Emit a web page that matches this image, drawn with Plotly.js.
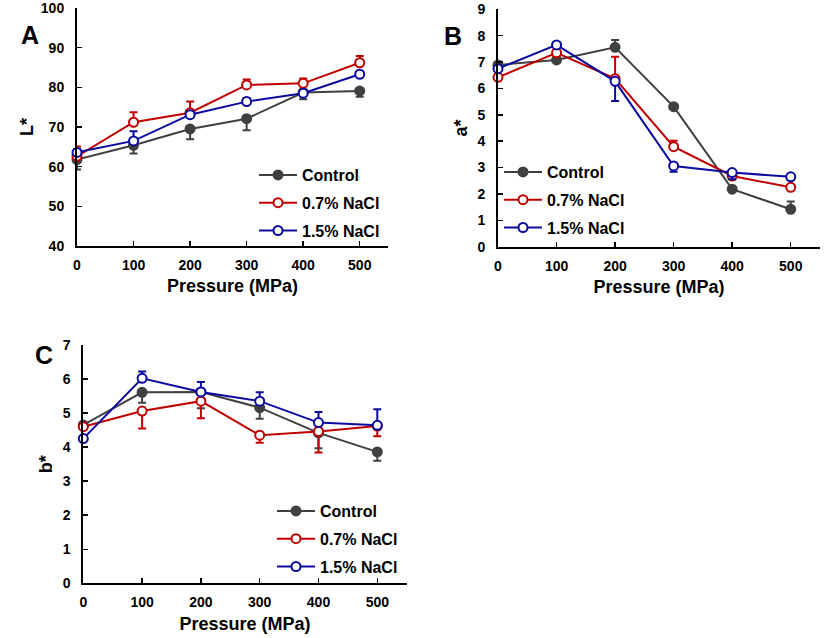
<!DOCTYPE html>
<html>
<head>
<meta charset="utf-8">
<script src="https://cdn.plot.ly/plotly-3.0.1.min.js"></script>
<style>html,body{margin:0;padding:0;background:#fff;}#chart{width:827px;height:638px;}</style>
</head>
<body>
<div id="chart"></div>
<script>
// ---- data ----
const pressure = [0, 100, 200, 300, 400, 500];
const seriesNames = ["Control", "0.7% NaCl", "1.5% NaCl"];

// Panel A: L*
const L_control = [61.8, 65.4, 69.5, 72.1, 78.7, 79.1];
const L_control_errPlus = [0, 0, 0, 0, 0, 0];
const L_control_errMinus = [2.5, 2.1, 2.6, 2.9, 1.7, 1.5];
const L_nacl07 = [62.6, 71.2, 73.6, 80.6, 81.0, 86.2];
const L_nacl07_errPlus = [2.5, 2.5, 2.8, 1.4, 1.2, 1.7];
const L_nacl07_errMinus = [0, 0, 0, 0, 0, 0];
const L_nacl15 = [63.6, 66.5, 73.1, 76.4, 78.5, 83.3];
const L_nacl15_errPlus = [0.8, 2.4, 0.5, 0.9, 0.8, 0.4];
const L_nacl15_errMinus = [0, 0, 0, 0, 0, 0];

// Panel B: a*
const a_control = [6.89, 7.08, 7.56, 5.31, 2.18, 1.42];
const a_control_errPlus = [0.08, 0.08, 0.28, 0.06, 0.06, 0.29];
const a_control_errMinus = [0, 0, 0, 0, 0, 0];
const a_nacl07 = [6.42, 7.35, 6.37, 3.79, 2.68, 2.25];
const a_nacl07_errPlus = [0.06, 0.08, 0.83, 0.23, 0.06, 0.08];
const a_nacl07_errMinus = [0, 0, 0, 0, 0, 0];
const a_nacl15 = [6.75, 7.65, 6.27, 3.06, 2.81, 2.65];
const a_nacl15_errPlus = [0, 0, 0, 0, 0, 0];
const a_nacl15_errMinus = [0.06, 0.06, 0.75, 0.22, 0.25, 0.12];

// Panel C: b*
const b_control = [4.65, 5.61, 5.62, 5.16, 4.42, 3.86];
const b_control_errPlus = [0, 0, 0, 0, 0, 0];
const b_control_errMinus = [0.08, 0.31, 0.48, 0.33, 0.45, 0.26];
const b_nacl07 = [4.60, 5.06, 5.35, 4.35, 4.46, 4.62];
const b_nacl07_errPlus = [0, 0, 0, 0, 0, 0];
const b_nacl07_errMinus = [0.08, 0.51, 0.50, 0.22, 0.62, 0.30];
const b_nacl15 = [4.25, 6.02, 5.62, 5.35, 4.72, 4.64];
const b_nacl15_errPlus = [0.08, 0.20, 0.29, 0.26, 0.31, 0.47];
const b_nacl15_errMinus = [0, 0, 0, 0, 0, 0];

const xTicks = [0, 100, 200, 300, 400, 500];
const yTicksA = [40, 50, 60, 70, 80, 90, 100];
const yTicksB = [0, 1, 2, 3, 4, 5, 6, 7, 8, 9];
const yTicksC = [0, 1, 2, 3, 4, 5, 6, 7];

// ---- styling ----
const FONT = "Liberation Sans, Arial, Helvetica, sans-serif";
const colors = ["#404040", "#C00000", "#0A0AA0"];
const fills = ["#404040", "#ffffff", "#ffffff"];

function mk(y, plus, minus, idx, xa, ya, legendId) {
  return {
    x: pressure, y: y, xaxis: xa, yaxis: ya,
    type: "scatter", mode: "lines+markers",
    name: seriesNames[idx],
    legend: legendId, legendgroup: legendId + "_" + idx,
    line: {color: colors[idx], width: 2},
    marker: {symbol: "circle", size: 9, color: fills[idx], line: {color: colors[idx], width: 2}},
    error_y: {type: "data", symmetric: false, array: plus, arrayminus: minus,
              color: colors[idx], thickness: 2, width: 4},
    cliponaxis: false
  };
}

const traces = [
  mk(L_control, L_control_errPlus, L_control_errMinus, 0, "x", "y", "legend"),
  mk(L_nacl07, L_nacl07_errPlus, L_nacl07_errMinus, 1, "x", "y", "legend"),
  mk(L_nacl15, L_nacl15_errPlus, L_nacl15_errMinus, 2, "x", "y", "legend"),
  mk(a_control, a_control_errPlus, a_control_errMinus, 0, "x2", "y2", "legend2"),
  mk(a_nacl07, a_nacl07_errPlus, a_nacl07_errMinus, 1, "x2", "y2", "legend2"),
  mk(a_nacl15, a_nacl15_errPlus, a_nacl15_errMinus, 2, "x2", "y2", "legend2"),
  mk(b_control, b_control_errPlus, b_control_errMinus, 0, "x3", "y3", "legend3"),
  mk(b_nacl07, b_nacl07_errPlus, b_nacl07_errMinus, 1, "x3", "y3", "legend3"),
  mk(b_nacl15, b_nacl15_errPlus, b_nacl15_errMinus, 2, "x3", "y3", "legend3")
];

const W = 827, H = 638;
function px(x) { return x / W; }
function py(y) { return 1 - y / H; }

function xAxis(x0, x1, anchor) {
  return {
    domain: [px(x0), px(x1)], anchor: anchor, range: [0, 550],
    tickvals: xTicks, ticktext: xTicks.map(String),
    showline: true, linecolor: "#000", linewidth: 2,
    ticks: "inside", ticklen: 5, tickwidth: 1.5, tickcolor: "#000",
    showgrid: false, zeroline: false, ticklabelstandoff: 5,
    ticklabeloverflow: "allow",
    tickfont: {family: FONT, size: 14, color: "#000", weight: "bold"},
    title: {text: "Pressure (MPa)", standoff: 8,
            font: {family: FONT, size: 18, color: "#000", weight: "bold"}}
  };
}
function yAxis(y0, y1, anchor, rng, ticks, title, standoff) {
  return {
    domain: [py(y1), py(y0)], anchor: anchor, range: rng,
    tickvals: ticks, ticktext: ticks.map(String),
    showline: true, linecolor: "#000", linewidth: 2,
    ticks: "inside", ticklen: 5, tickwidth: 1.5, tickcolor: "#000",
    showgrid: false, zeroline: false, ticklabelstandoff: 8,
    ticklabeloverflow: "allow",
    tickfont: {family: FONT, size: 14, color: "#000", weight: "bold"},
    title: {text: title, standoff: standoff,
            font: {family: FONT, size: 18, color: "#000", weight: "bold"}}
  };
}

function legendAt(x, y) {
  return {
    x: px(x), y: py(y), xanchor: "left", yanchor: "top",
    bgcolor: "rgba(0,0,0,0)", borderwidth: 0,
    font: {family: FONT, size: 16, color: "#000", weight: "bold"},
    itemwidth: 38, tracegroupgap: 4, itemclick: false
  };
}

const layout = {
  width: W, height: H,
  margin: {l: 0, r: 0, t: 0, b: 0},
  paper_bgcolor: "#fff", plot_bgcolor: "#fff",
  showlegend: true,
  xaxis: xAxis(77, 388, "y"),
  yaxis: yAxis(8, 246, "x", [40, 100], yTicksA, "L*", 3),
  xaxis2: xAxis(498, 820, "y2"),
  yaxis2: yAxis(9.3, 246.7, "x2", [0, 9], yTicksB, "a*", 5),
  xaxis3: xAxis(83.3, 406.7, "y3"),
  yaxis3: yAxis(345, 583.3, "x3", [0, 7], yTicksC, "b*", 5),
  legend: legendAt(254, 158),
  legend2: legendAt(499, 155),
  legend3: legendAt(272, 494),
  annotations: [
    {text: "A", x: px(19), y: py(19), xref: "paper", yref: "paper", showarrow: false,
     font: {family: FONT, size: 25, color: "#000", weight: "bold"}},
    {text: "B", x: px(453), y: py(20), xref: "paper", yref: "paper", showarrow: false,
     font: {family: FONT, size: 25, color: "#000", weight: "bold"}},
    {text: "C", x: px(33), y: py(355), xref: "paper", yref: "paper", showarrow: false,
     font: {family: FONT, size: 25, color: "#000", weight: "bold"}}
  ]
};

Plotly.newPlot("chart", traces, layout, {displayModeBar: false, staticPlot: true});
</script>
</body>
</html>
